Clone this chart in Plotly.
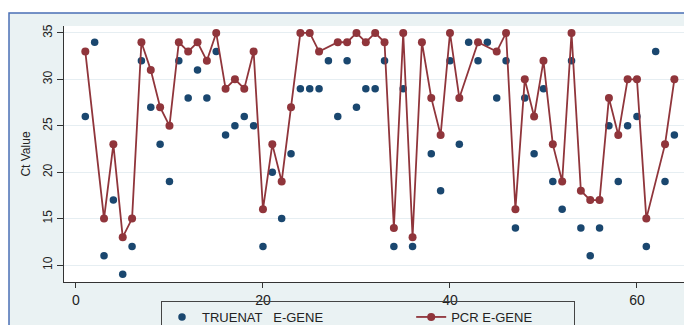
import plotly.graph_objects as go

obs = list(range(1, 65))
truenat = [26, 34, 11, 17, 9, 12, 32, 27, 23, 19,
           32, 28, 31, 28, 33, 24, 25, 26, 25, 12,
           20, 15, 22, 29, 29, 29, 32, 26, 32, 27,
           29, 29, 32, 12, 29, 12, None, 22, 18, 32,
           23, 34, 32, 34, 28, 32, 14, 28, 22, 29,
           19, 16, 32, 14, 11, 14, 25, 19, 25, 26,
           12, 33, 19, 24]
pcr = [33, None, 15, 23, 13, 15, 34, 31, 27, 25,
       34, 33, 34, 32, 35, 29, 30, 29, 33, 16,
       23, 19, 27, 35, 35, 33, None, 34, 34, 35,
       34, 35, 34, 14, 35, 13, 34, 28, 24, 35,
       28, None, 34, None, 33, 35, 16, 30, 26, 32,
       23, 19, 35, 18, 17, 17, 28, 24, 30, 30,
       15, None, 23, 30]
x_ticks = [0, 20, 40, 60]
y_ticks = [10, 15, 20, 25, 30, 35]

BLUE = "#1a476f"
RED = "#90353b"
FONT = "Liberation Sans, Arial, sans-serif"
NB = "\u00a0"

fig = go.Figure()
fig.add_trace(go.Scatter(
    x=obs, y=truenat, mode="markers",
    name="TRUENAT" + NB * 3 + "E-GENE" + NB * 23,
    marker=dict(color=BLUE, size=7.5),
))
fig.add_trace(go.Scatter(
    x=obs, y=pcr, mode="lines+markers", name="PCR E-GENE" + NB * 10,
    connectgaps=True,
    line=dict(color=RED, width=1.8),
    marker=dict(color=RED, size=8),
))

fig.update_layout(
    width=684, height=325,
    margin=dict(l=64, r=0, t=26, b=43, autoexpand=False),
    paper_bgcolor="white",
    plot_bgcolor="rgba(0,0,0,0)",
    font=dict(family=FONT, color="#222222"),
    showlegend=True,
    legend=dict(
        orientation="h", xref="container", yref="container",
        x=161 / 684, y=(325 - 301) / 325, xanchor="left", yanchor="top",
        bordercolor="#444444", borderwidth=1, bgcolor="rgba(0,0,0,0)",
        font=dict(size=13, family=FONT),
        itemwidth=30, traceorder="normal",
    ),
    shapes=[
        dict(type="rect", xref="paper", yref="paper",
             x0=-0.0887, x1=1.2, y0=-0.4, y1=1.0508,
             fillcolor="#EAF2F3", line=dict(color="#4a6fb5", width=1.5),
             layer="below"),
        dict(type="rect", xref="paper", yref="paper",
             x0=0, x1=1.0, y0=0, y1=1,
             fillcolor="white", line=dict(width=0),
             layer="below"),
    ],
)

fig.update_xaxes(
    range=[-1.28, 65.03], tickvals=x_ticks, ticks="outside", ticklen=5,
    tickcolor="#333333", showline=True, linecolor="#333333", linewidth=1,
    showgrid=False, zeroline=False, tickfont=dict(size=14, family=FONT),
    automargin=False,
)
fig.update_yaxes(
    range=[8.17, 35.75], tickvals=y_ticks, tickangle=-90, ticks="outside",
    ticklen=6, tickcolor="#333333", showline=True, linecolor="#333333",
    linewidth=1, showgrid=True, gridcolor="#E6EEF2", gridwidth=1,
    zeroline=False, tickfont=dict(size=12, family=FONT),
    title=dict(text="Ct Value", font=dict(size=12, family=FONT), standoff=8),
    automargin=False,
)

fig.write_html(
    "out.html",
    config={"displayModeBar": False},
    post_script="document.body.style.margin='0';document.body.style.overflow='hidden';",
)
